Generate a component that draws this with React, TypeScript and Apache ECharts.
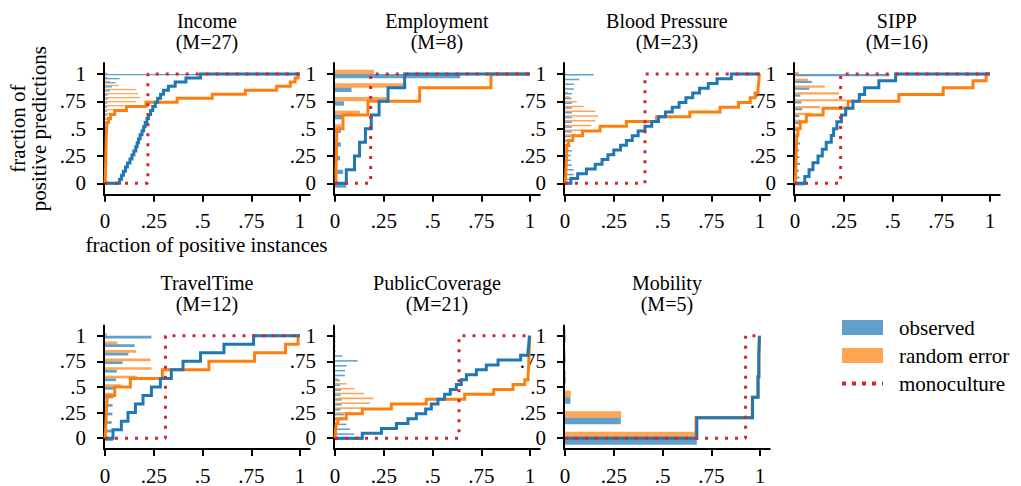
import React, { useEffect, useRef } from "react";
import * as echarts from "echarts";

const panelTitles = ["Income", "Employment", "Blood Pressure", "SIPP", "TravelTime", "PublicCoverage", "Mobility"];
const modelCounts = [27, 8, 23, 16, 12, 21, 5];
const monocultureThresholds = [0.22, 0.183, 0.41, 0.234, 0.31, 0.636, 0.926];

// x position where each step curve leaves level k/M (k = 0..M-1)
const incomeObserved = [0.075, 0.085, 0.095, 0.105, 0.115, 0.128, 0.138, 0.148, 0.158, 0.165, 0.172, 0.18, 0.19, 0.198, 0.206, 0.215, 0.223, 0.234, 0.245, 0.258, 0.27, 0.285, 0.3, 0.325, 0.36, 0.415, 0.49];
const incomeRandom = [0.001, 0.002, 0.002, 0.003, 0.003, 0.004, 0.004, 0.005, 0.005, 0.006, 0.006, 0.007, 0.008, 0.009, 0.01, 0.018, 0.028, 0.05, 0.11, 0.21, 0.37, 0.55, 0.72, 0.88, 0.95, 0.975, 0.99];
const employmentObserved = [0.058, 0.1, 0.126, 0.156, 0.186, 0.226, 0.272, 0.357];
const employmentRandom = [0.005, 0.007, 0.008, 0.01, 0.041, 0.169, 0.434, 0.8];
const bloodPressureObserved = [0.03, 0.065, 0.11, 0.155, 0.19, 0.22, 0.25, 0.285, 0.315, 0.345, 0.375, 0.41, 0.445, 0.48, 0.515, 0.55, 0.585, 0.62, 0.655, 0.69, 0.735, 0.78, 0.853];
const bloodPressureRandom = [0.003, 0.004, 0.005, 0.006, 0.007, 0.008, 0.009, 0.011, 0.018, 0.04, 0.09, 0.18, 0.315, 0.47, 0.64, 0.795, 0.89, 0.95, 0.975, 0.99, 0.993, 0.995, 0.997];
const sippObserved = [0.05, 0.072, 0.092, 0.118, 0.14, 0.16, 0.186, 0.198, 0.215, 0.238, 0.26, 0.297, 0.33, 0.357, 0.43, 0.516];
const sippRandom = [0.003, 0.004, 0.005, 0.006, 0.007, 0.008, 0.01, 0.015, 0.027, 0.058, 0.144, 0.272, 0.533, 0.76, 0.913, 0.98];
const travelTimeObserved = [0.041, 0.084, 0.118, 0.156, 0.195, 0.238, 0.284, 0.34, 0.4, 0.49, 0.61, 0.762];
const travelTimeRandom = [0.003, 0.005, 0.007, 0.009, 0.012, 0.05, 0.13, 0.294, 0.533, 0.767, 0.926, 0.99];
const publicCoverageObserved = [0.14, 0.238, 0.315, 0.374, 0.417, 0.465, 0.494, 0.528, 0.562, 0.591, 0.622, 0.648, 0.674, 0.725, 0.776, 0.836, 0.952, 0.99, 0.993, 0.995, 0.997];
const publicCoverageRandom = [0.002, 0.004, 0.006, 0.015, 0.058, 0.14, 0.289, 0.468, 0.665, 0.814, 0.913, 0.973, 0.99, 0.992, 0.993, 0.994, 0.995, 0.996, 0.997, 0.998, 0.999];
const mobilityObserved = [0.676, 0.962, 0.99, 0.994, 0.997];
const mobilityRandom = [0.672, 0.96, 0.99, 0.994, 0.997];

const observedSteps = [incomeObserved, employmentObserved, bloodPressureObserved, sippObserved, travelTimeObserved, publicCoverageObserved, mobilityObserved];
const randomSteps = [incomeRandom, employmentRandom, bloodPressureRandom, sippRandom, travelTimeRandom, publicCoverageRandom, mobilityRandom];

const tickValues = [0, 0.25, 0.5, 0.75, 1];
const tickLabels = ["0", ".25", ".5", ".75", "1"];

const FONT = "Liberation Serif";
const FS = 21;
const TITLE_FS = 20;
const BLUE = "#1f77b4";
const ORANGE = "#ff7f0e";
const RED = "#d62728";
const BLUE_BAR = "rgba(31,119,180,0.7)";
const ORANGE_BAR = "rgba(255,127,14,0.7)";
const BAR_FRAC = 0.32;

const panelX0 = [105, 335, 565, 795, 105, 335, 565];
const panelRow = [0, 0, 0, 0, 1, 1, 1];
const rowGeom = [
  { y1: 74, unit: 109.3 },
  { y1: 336, unit: 105.7 },
];
const X_MIN = -0.005;
const X_MAX = 1.05;
const Y_MIN = -0.105;
const Y_MAX = 1.1;
const X_UNIT = 195;

function stepPoints(breaks: number[], m: number): number[][] {
  const pts: number[][] = [[0, 0]];
  breaks.forEach((x, k) => {
    pts.push([x, k / m]);
    pts.push([x, (k + 1) / m]);
  });
  pts.push([1, 1]);
  return pts;
}

function barData(breaks: number[], m: number): number[][] {
  const out: number[][] = [];
  for (let k = 0; k <= m; k++) {
    const prev = k === 0 ? 0 : breaks[k - 1];
    const next = k === m ? 1 : breaks[k];
    out.push([Math.max(next - prev, 0), k / m]);
  }
  return out;
}

function fmt(v: number) {
  const i = tickValues.findIndex((t) => Math.abs(t - v) < 1e-6);
  return i >= 0 ? tickLabels[i] : "";
}

function buildOption() {
  const grid: any[] = [];
  const xAxis: any[] = [];
  const yAxis: any[] = [];
  const series: any[] = [];
  const graphicTexts: any[] = [];

  panelTitles.forEach((name, i) => {
    const m = modelCounts[i];
    const row = rowGeom[panelRow[i]];
    const left = panelX0[i] + X_MIN * X_UNIT;
    const width = (X_MAX - X_MIN) * X_UNIT;
    const top = row.y1 - (Y_MAX - 1) * row.unit;
    const height = (Y_MAX - Y_MIN) * row.unit;
    grid.push({ left, top, width, height, containLabel: false });
    const tStyle = { fontFamily: FONT, fontSize: TITLE_FS, fill: "#000", align: "center", verticalAlign: "middle" };
    graphicTexts.push({ type: "text", x: left + width / 2, y: top - 42, style: { ...tStyle, text: name } });
    graphicTexts.push({ type: "text", x: left + width / 2, y: top - 21, style: { ...tStyle, text: "(M=" + m + ")" } });
    xAxis.push({
      gridIndex: i,
      type: "value",
      min: X_MIN,
      max: X_MAX,
      splitLine: { show: false },
      axisLine: { show: true, onZero: false, lineStyle: { color: "#000", width: 2 } },
      axisTick: { show: true, customValues: tickValues, length: 7, lineStyle: { color: "#000", width: 2 } },
      axisLabel: { customValues: tickValues, formatter: fmt, margin: 16, fontFamily: FONT, fontSize: FS, color: "#000" },
    });
    yAxis.push({
      gridIndex: i,
      type: "value",
      min: Y_MIN,
      max: Y_MAX,
      splitLine: { show: false },
      axisLine: { show: true, onZero: false, lineStyle: { color: "#000", width: 2 } },
      axisTick: { show: true, customValues: tickValues, length: 7, lineStyle: { color: "#000", width: 2 } },
      axisLabel: { customValues: tickValues, formatter: fmt, margin: 18, fontFamily: FONT, fontSize: FS, color: "#000" },
    });

    const barSeries = (nm: string, breaks: number[], color: string, up: boolean) => ({
      type: "custom",
      name: nm,
      xAxisIndex: i,
      yAxisIndex: i,
      z: 1,
      silent: true,
      data: barData(breaks, m),
      encode: { x: 0, y: 1 },
      renderItem: (_params: any, api: any) => {
        const len = api.value(0);
        const y = api.value(1);
        const a = api.coord([0, y]);
        const b = api.coord([len, y]);
        const h = api.size([0, BAR_FRAC / m])[1];
        return {
          type: "rect",
          shape: { x: a[0], y: up ? a[1] - h : a[1], width: b[0] - a[0], height: h },
          style: { fill: color },
        };
      },
    });
    series.push(barSeries("random error", randomSteps[i], ORANGE_BAR, true));
    series.push(barSeries("observed", observedSteps[i], BLUE_BAR, false));

    const lineSeries = (nm: string, pts: number[][], color: string, z: number, dotted: boolean) => ({
      type: "line",
      name: nm,
      xAxisIndex: i,
      yAxisIndex: i,
      z,
      silent: true,
      symbol: "none",
      clip: false,
      data: pts,
      itemStyle: { color },
      lineStyle: dotted
        ? { color, width: 3, type: [3, 7], cap: "butt" }
        : { color, width: 3, join: "miter", cap: "butt" },
    });
    series.push(lineSeries("random error", stepPoints(randomSteps[i], m), ORANGE, 2, false));
    series.push(lineSeries("observed", stepPoints(observedSteps[i], m), BLUE, 3, false));
    const p = monocultureThresholds[i];
    series.push(lineSeries("monoculture", [[0, 0], [p, 0], [p, 1], [1, 1]], RED, 4, true));
  });

  const r0 = rowGeom[0];
  return {
    animation: false,
    backgroundColor: "#fff",
    grid,
    xAxis,
    yAxis,
    series,
    legend: {
      orient: "vertical",
      left: 840,
      top: 317,
      padding: 0,
      itemWidth: 41,
      itemHeight: 15,
      itemGap: 7,
      selectedMode: false,
      textStyle: { fontFamily: FONT, fontSize: FS, color: "#000", lineHeight: 21, padding: [0, 0, 0, 11] },
      data: [
        { name: "observed", icon: "rect", itemStyle: { color: BLUE_BAR } },
        { name: "random error", icon: "rect", itemStyle: { color: ORANGE_BAR } },
        { name: "monoculture", itemStyle: { opacity: 0 }, lineStyle: { color: RED, width: 4, type: [4, 6] } },
      ],
    },
    graphic: [
      ...graphicTexts,
      {
        type: "text",
        x: 28,
        y: r0.y1 + 0.5 * r0.unit,
        rotation: Math.PI / 2,
        style: {
          text: "fraction of\npositive predictions",
          fontFamily: FONT,
          fontSize: FS,
          fill: "#000",
          align: "center",
          verticalAlign: "middle",
          lineHeight: 21,
        },
      },
      {
        type: "text",
        x: 206.5,
        y: 245,
        style: {
          text: "fraction of positive instances",
          fontFamily: FONT,
          fontSize: FS,
          fill: "#000",
          align: "center",
          verticalAlign: "middle",
        },
      },
    ],
  };
}

export default function App() {
  const ref = useRef<HTMLDivElement>(null);
  useEffect(() => {
    if (!ref.current) return;
    const chart = echarts.init(ref.current, undefined, { renderer: "svg" });
    chart.setOption(buildOption() as any);
    return () => chart.dispose();
  }, []);
  return (
    <div
      ref={ref}
      style={{ position: "absolute", left: 0, top: 0, width: 1021, height: 486, background: "#fff" }}
    />
  );
}
